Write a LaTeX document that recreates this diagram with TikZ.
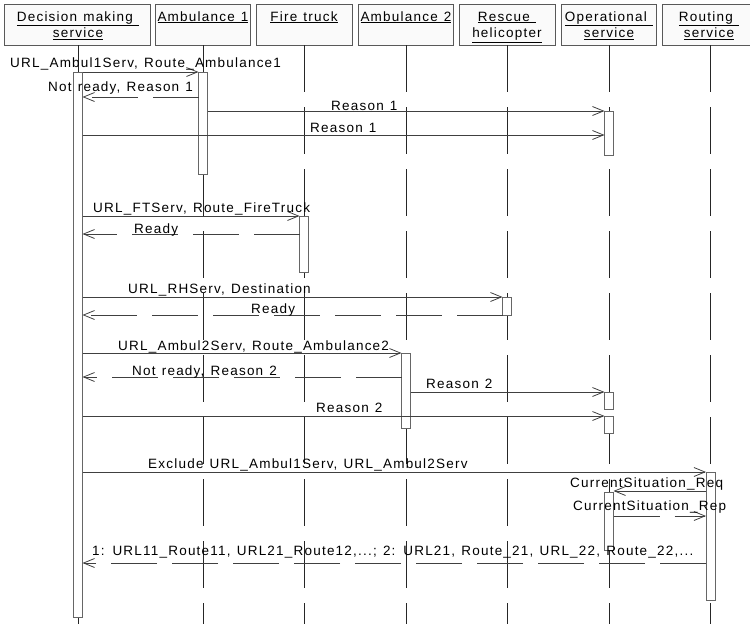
\documentclass[tikz,border=0pt]{standalone}
\usepackage{fontspec}
\setmainfont{Liberation Sans}[LetterSpace=9, WordSpace=1.25]
\usetikzlibrary{arrows.meta}
\begin{document}
\begin{tikzpicture}[x=1pt,y=-1pt,
  font=\fontsize{13.5}{16.5}\selectfont,
  headbox/.style={draw=black!65, fill=black!2, line width=0.8pt, inner sep=0pt,
    outer sep=0pt, minimum height=41pt, anchor=north west},
  headtext/.style={align=center, inner sep=0pt, anchor=base},
  lifeline/.style={draw=black!85, line width=0.8pt, dash pattern=on 47pt off 15pt},
  bar/.style={draw=black!60, fill=white, line width=0.8pt, minimum width=9pt,
    inner sep=0pt, outer sep=0pt, anchor=north},
  msg/.style={draw=black!75, line width=0.8pt, -{Straight Barb[length=11pt,width=9pt]}},
  reply/.style={msg, dash pattern=on 46pt off 15pt},
  lbl/.style={inner sep=0pt, anchor=base west}
]
\path[use as bounding box, clip] (0,0) rectangle (750,624);

% participants
\node[headbox, minimum width=146pt] (dmH) at (4,4) {};
\node[headbox, minimum width=95pt]  (a1H) at (155,4) {};
\node[headbox, minimum width=96pt]  (ftH) at (256,4) {};
\node[headbox, minimum width=95pt]  (a2H) at (358,4) {};
\node[headbox, minimum width=96pt]  (rhH) at (459,4) {};
\node[headbox, minimum width=95pt]  (opH) at (561,4) {};
\node[headbox, minimum width=95pt]  (rtH) at (662,4) {};

% two-line names are anchored on the baseline of their last line
\node[headtext] (dmT) at (78,37.5)  {\underline{Decision making\ }\\\underline{service}};
\node[headtext] (a1T) at (203,21)   {\underline{Ambulance 1}};
\node[headtext] (ftT) at (304,21)   {\underline{Fire truck}};
\node[headtext] (a2T) at (406,21)   {\underline{Ambulance 2}};
\node[headtext] (rhT) at (507,37.5) {\underline{Rescue\ }\\\underline{helicopter}};
\node[headtext] (opT) at (609,37.5) {\underline{Operational\ }\\\underline{service}};
\node[headtext] (rtT) at (709,37.5) {\underline{Routing\ }\\\underline{service}};

% lifelines
\coordinate (dmL) at (78,45);
\coordinate (a1L) at (203,45);
\coordinate (ftL) at (304,45);
\coordinate (a2L) at (406,45);
\coordinate (rhL) at (507,45);
\coordinate (opL) at (609,45);
\coordinate (rtL) at (710.5,45);
\foreach \l in {dmL,a1L,ftL,a2L,rhL,opL,rtL}
  \draw[lifeline] (\l) -- (\l |- 0,630);

% activation bars
\node[bar, minimum height=545pt] (dmB)  at (78,72) {};
\node[bar, minimum height=102pt] (a1B)  at (203,72) {};
\node[bar, minimum height=44pt]  (opB1) at (609,111) {};
\node[bar, minimum height=56pt]  (ftB)  at (304,216) {};
\node[bar, minimum height=18pt]  (rhB)  at (507,297) {};
\node[bar, minimum height=75pt]  (a2B)  at (406,353) {};
\node[bar, minimum height=17pt]  (opB2) at (609,392) {};
\node[bar, minimum height=17pt]  (opB3) at (609,416) {};
\node[bar, minimum height=128pt] (rtB)  at (710.5,472) {};
\node[bar, minimum height=58pt]  (opB4) at (609,492) {};

% messages
\draw[msg]   (dmB.north east) -- (a1B.north west);
\draw[reply] (a1B.west |- 0,97) -- (dmB.east |- 0,97);
\draw[msg]   (a1B.east |- 0,111) -- (opB1.north west);
\draw[msg]   (dmB.east |- 0,135) -- (opB1.west |- 0,135);
\draw[msg]   (dmB.east |- 0,216) -- (ftB.north west);
\draw[reply] (ftB.west |- 0,234) -- (dmB.east |- 0,234);
\draw[msg]   (dmB.east |- 0,297) -- (rhB.north west);
\draw[reply] (rhB.south west) -- (dmB.east |- rhB.south);
\draw[msg]   (dmB.east |- 0,353) -- (a2B.north west);
\draw[reply] (a2B.west |- 0,377) -- (dmB.east |- 0,377);
\draw[msg]   (a2B.east |- 0,392) -- (opB2.north west);
\draw[msg]   (dmB.east |- 0,416) -- (opB3.north west);
\draw[msg]   (dmB.east |- 0,472) -- (rtB.north west);
\draw[msg]   (rtB.west |- 0,491) -- (opB4.east |- 0,491);
\draw[reply] (opB4.east |- 0,516) -- (rtB.west |- 0,516);
\draw[reply] (rtB.west |- 0,563) -- (dmB.east |- 0,563);

% message labels
\node[lbl] (l1)  at (10,67)   {URL\_Ambul1Serv, Route\_Ambulance1};
\node[lbl] (l2)  at (48,91)   {Not ready, Reason 1};
\node[lbl] (l3)  at (331,110) {Reason 1};
\node[lbl] (l4)  at (310,132) {Reason 1};
\node[lbl] (l5)  at (93,212)  {URL\_FTServ, Route\_FireTruck};
\node[lbl] (l6)  at (134,233) {Ready};
\node[lbl] (l7)  at (128,293) {URL\_RHServ, Destination};
\node[lbl] (l8)  at (251,313) {Ready};
\node[lbl] (l9)  at (118,350) {URL\_Ambul2Serv, Route\_Ambulance2};
\node[lbl] (l10) at (132,375) {Not ready, Reason 2};
\node[lbl] (l11) at (426,388) {Reason 2};
\node[lbl] (l12) at (316,412) {Reason 2};
\node[lbl] (l13) at (148,468) {Exclude URL\_Ambul1Serv, URL\_Ambul2Serv};
\node[lbl] (l14) at (570,487) {CurrentSituation\_Req};
\node[lbl] (l15) at (573,510) {CurrentSituation\_Rep};
\node[lbl] (l16) at (92,555)  {1: URL11\_Route11, URL21\_Route12,...; 2: URL21, Route\_21, URL\_22, Route\_22,...};
\end{tikzpicture}
\end{document}
